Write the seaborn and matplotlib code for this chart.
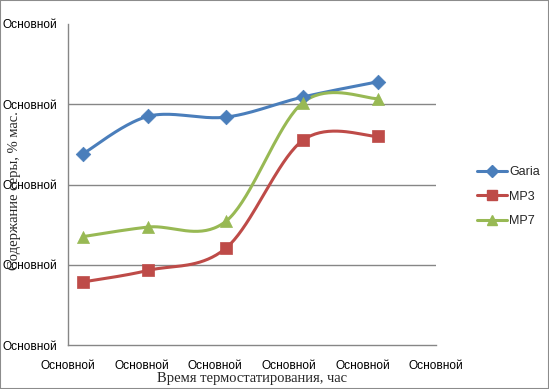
import numpy as np
import pandas as pd
import seaborn as sns
import matplotlib
matplotlib.use("Agg")
import matplotlib.pyplot as plt
from matplotlib.lines import Line2D
from matplotlib.patches import Rectangle

# ---- data ----
x_pos = [0.2, 1.09, 2.15, 3.19, 4.21]
garia = [2.38, 2.85, 2.84, 3.09, 3.28]
mp3 = [0.785, 0.93, 1.21, 2.55, 2.60]
mp7 = [1.35, 1.47, 1.545, 3.02, 3.07]
series_names = ["Garia", "MP3", "MP7"]
colors = ["#4A7EBB", "#BE4B48", "#98B954"]
markers = ["D", "s", "^"]
x_ticks = [0, 1, 2, 3, 4, 5]
y_ticks = [0, 1, 2, 3, 4]
tick_text = "Основной"
x_title = "Время термостатирования, час"
y_title = "Содержание серы, % мас."


def smooth(xs, ys, n=40):
    """Excel-like Bezier smoothing (Catmull-Rom control points)."""
    P = np.column_stack([xs, ys]).astype(float)
    ext = np.vstack([P[0], P, P[-1]])
    out = []
    t = np.linspace(0, 1, n)[:, None]
    for i in range(len(P) - 1):
        p0, p1 = ext[i + 1], ext[i + 2]
        c1 = p0 + (ext[i + 2] - ext[i]) / 6.0
        c2 = p1 - (ext[i + 3] - ext[i + 1]) / 6.0
        seg = ((1 - t) ** 3) * p0 + 3 * ((1 - t) ** 2) * t * c1 + 3 * (1 - t) * t ** 2 * c2 + t ** 3 * p1
        out.append(seg if i == 0 else seg[1:])
    S = np.vstack(out)
    return S[:, 0], S[:, 1]


sns.set_style("white")
plt.rcParams["font.family"] = ["Liberation Sans", "DejaVu Sans"]

fig = plt.figure(figsize=(5.49, 3.89), dpi=100)
ax = fig.add_axes([68 / 549, 1 - 345 / 389, (436 - 68) / 549, (345 - 24) / 389])

for name, vals, col, mk in zip(series_names, [garia, mp3, mp7], colors, markers):
    sx, sy = smooth(x_pos, vals)
    sns.lineplot(x=sx, y=sy, ax=ax, color=col, linewidth=2.2, sort=False, legend=False)
    ms = 55 if mk == "D" else 75
    sns.scatterplot(x=x_pos, y=vals, ax=ax, color=col, marker=mk, s=ms, edgecolor=col,
                    linewidth=0.5, legend=False, zorder=5)

ax.set_xlim(0, 5)
ax.set_ylim(0, 4)
ax.set_xticks(x_ticks)
ax.set_yticks(y_ticks)
ax.set_xticklabels([tick_text] * len(x_ticks), fontsize=8.6)
ax.set_yticklabels([tick_text] * len(y_ticks), fontsize=8.6)
for g in [1, 2, 3]:
    ax.axhline(g, color="#868686", linewidth=1.0, zorder=0)
for s in ["top", "right"]:
    ax.spines[s].set_visible(False)
for s in ["left", "bottom"]:
    ax.spines[s].set_color("#868686")
    ax.spines[s].set_linewidth(1.0)
ax.tick_params(axis="both", which="major", direction="out", length=5, width=1.0,
               color="#868686", colors="black", pad=3)
ax.tick_params(axis="x", pad=6)

ax.set_xlabel(x_title, fontsize=10.5, family=["Liberation Serif", "DejaVu Serif"], labelpad=0)
ax.set_ylabel(y_title, fontsize=10.5, family=["Liberation Serif", "DejaVu Serif"])
ax.yaxis.set_label_coords(-0.127, 0.48)
ax.xaxis.set_label_coords(0.5, -0.085)
ax.xaxis.label.set_va("top")

handles = [Line2D([0], [0], color=c, linewidth=2.2, marker=m, markersize=6 if m == "D" else 7,
                  markeredgecolor=c) for c, m in zip(colors, markers)]
leg = fig.legend(handles, series_names, loc="upper left", bbox_to_anchor=(472 / 549, 1 - 161 / 389),
                 frameon=False, fontsize=9, handlelength=2.4, handletextpad=0.2,
                 labelspacing=1.0, borderaxespad=0)

fig.patches.append(Rectangle((0, 0), 1, 1, transform=fig.transFigure, fill=False,
                             edgecolor="#8c8c8c", linewidth=1.5))

fig.savefig("out.png", dpi=100)
